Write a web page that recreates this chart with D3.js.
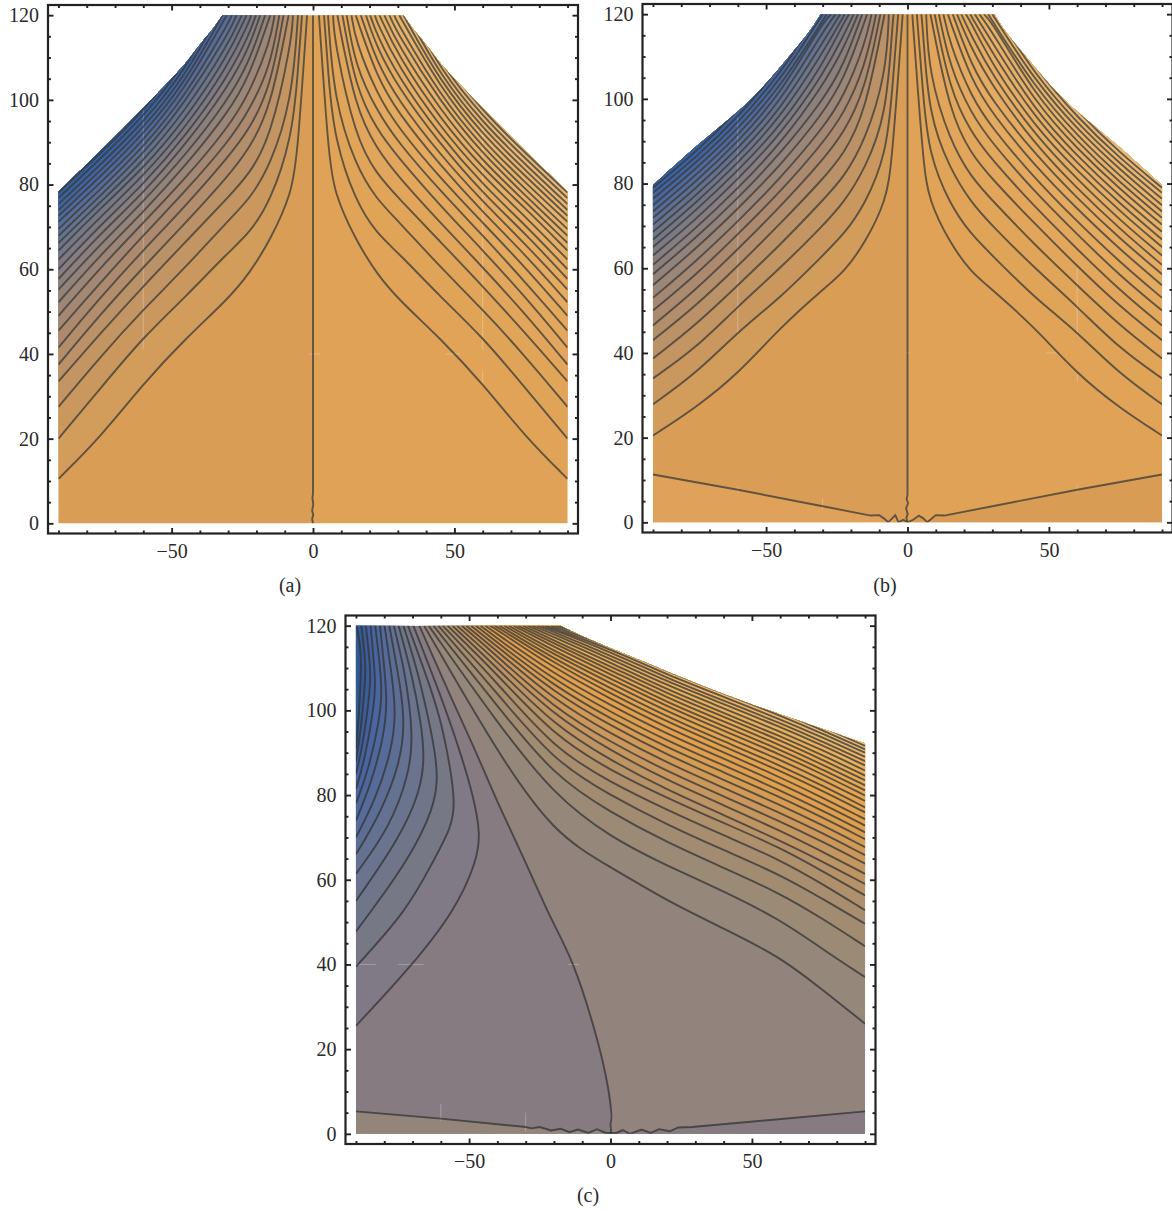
<!DOCTYPE html>
<html>
<head>
<meta charset="utf-8">
<script src="https://cdn.jsdelivr.net/npm/d3@7"></script>
<style>
  html, body { margin: 0; padding: 0; background: #fff; }
  svg { display: block; }
  text { font-family: "Liberation Serif", serif; fill: #2a2a2a; }
</style>
</head>
<body>
<div id="chart"></div>
<script>
// contour heights (y) where each line crosses these x columns, right half of (a) and (b)
const sideColumns = [5.5, 7.5, 15, 22.5, 30, 45, 60, 75, 90]

const aTop = [2.1, 3.9, 5.3, 7.1, 8.6, 10.4, 11.9, 13.6, 15.1, 16.9, 18.7, 20.2, 21.9, 23.5, 25.2, 27, 28.7, 30.5, 32, 33.5, 35, 36.5, 38]
const aRows = [
    [87, 78, 67, 59, 53, 43.7, 33, 20.5, 10.5],
    [105, 91, 76, 68.5, 64, 53.5, 44, 32, 20],
    [118, 100, 84.5, 76.5, 71.5, 60.5, 50.5, 39.5, 27.5],
    [null, 114, 91, 82.5, 77, 66.5, 56, 45, 33.5],
    [null, null, 98, 88.5, 82, 71, 60.5, 49.5, 37.5],
    [null, null, 103, 93, 86.5, 75, 64.5, 53.5, 41.5],
    [null, null, 108, 97.5, 90, 78.5, 68, 57, 45.5],
    [null, null, 114, 101.5, 93.5, 81.5, 71, 60.5, 49],
    [null, null, null, 105.5, 97, 84.5, 73.5, 63.5, 52.2],
    [null, null, null, 109, 100, 87, 76, 66, 55.2],
    [null, null, null, 112.5, 103, 89.5, 78, 68.5, 57.7],
    [null, null, null, 115.5, 105.5, 91.5, 80, 70.5, 60],
    [null, null, null, 118.5, 108, 93.5, 82, 72.5, 62.3],
    [null, null, null, null, 110.5, 95.5, 83.8, 74.5, 64.4],
    [null, null, null, null, 113, 97.5, 85.5, 76, 66.2],
    [null, null, null, null, 115.5, 99.5, 87.2, 77.5, 67.9],
    [null, null, null, null, 118, 101, 88.8, 79, 69.5],
    [null, null, null, null, null, 102.8, 90.3, 80.5, 71.2],
    [null, null, null, null, null, 104.3, 91.8, 82, 72.6],
    [null, null, null, null, null, 105.8, 93.2, 83.4, 74],
    [null, null, null, null, null, 107.2, 94.6, 84.8, 75.4],
    [null, null, null, null, null, 108.5, 96, 86.2, 76.8],
    [null, null, null, null, null, 110, 97.3, 87.5, 78.1],
]
const aEnvelope = [[32, 120], [35, 117], [39.6, 113.5], [44.5, 109], [50, 105], [60, 98], [72, 90], [90, 78.3]]
const aCenter = [[0, 120], [0, 40], [0, 7], [-0.2, 6], [0.1, 4.5], [-0.3, 3], [0.1, 2], [-0.3, 1], [0, 0]]

const bTop = [1.7, 3.3, 4.9, 6.6, 8.1, 9.6, 11.1, 12.7, 14.3, 16, 17.5, 19, 20.6, 22.2, 23.8, 25.4, 27, 28.5, 30, 31.5, 33, 34.5]
const bRows = [
    [85, 76, 66, 59, 55, 46, 35, 27, 20.5],
    [101, 87, 75, 68, 63, 53, 45, 35, 27.9],
    [116, 96, 83.5, 75.5, 70, 60, 51, 41, 34],
    [null, 106, 90, 81.5, 76, 65.5, 56, 46.5, 38.7],
    [null, null, 96.5, 87, 81, 70.5, 60.5, 51, 43],
    [null, null, 102, 92, 85.5, 74.5, 64.5, 54.8, 46.5],
    [null, null, 107.5, 96.5, 89.5, 78, 68, 58.3, 50],
    [null, null, 113, 100.5, 93, 81.2, 71, 61.5, 53],
    [null, null, 118.5, 104.5, 96.5, 84.2, 74, 64.5, 56],
    [null, null, null, 108, 99.5, 87, 76.5, 67, 58.6],
    [null, null, null, 112, 103, 89.3, 78.8, 69.3, 60.8],
    [null, null, null, 115, 105.5, 91.5, 81, 71.4, 63],
    [null, null, null, 118, 108, 93.5, 83, 73.5, 65],
    [null, null, null, null, 110.8, 95.5, 84.8, 75.3, 66.8],
    [null, null, null, null, 113.3, 97.3, 86.5, 77, 68.6],
    [null, null, null, null, 115.8, 99.2, 88.2, 78.7, 70.3],
    [null, null, null, null, 118, 101, 89.8, 80.3, 71.9],
    [null, null, null, null, null, 102.7, 91.3, 81.8, 73.4],
    [null, null, null, null, null, 104.3, 92.8, 83.3, 74.9],
    [null, null, null, null, null, 105.8, 94.2, 84.7, 76.4],
    [null, null, null, null, null, 107.3, 95.6, 86, 77.8],
    [null, null, null, null, null, 108.7, 97, 87.3, 79],
]
const bEnvelope = [[30.7, 120], [34, 116.5], [38, 113], [45.6, 107], [52, 102], [60, 96.8], [76.7, 87.8], [90, 79.6]]
const bCenter = [[0, 120], [0, 40], [0, 6.5], [-0.3, 5.5], [0.2, 4.5], [-0.5, 3.3], [0.1, 2], [-0.4, 1], [0, 0]]
const bBottom = [[-90, 11.3], [-60, 7.7], [-30, 3.8], [-13, 1.6], [-10, 1.7], [-8.5, 1], [-6.8, 0], [-4.3, 1.7], [-3.2, 0], [-1.5, 0.6], [0, 0],
    [2, 0.6], [4, 1.6], [5.5, 1], [7, 0], [10, 1.7], [13, 1.6], [30, 3.8], [60, 7.7], [90, 11.3]]

// panel (c) is not symmetric: one fan runs to the left edge, one to the right edge
const cCenter = [[-67.6, 120], [-57, 104], [-48.5, 91.5], [-40, 78.5], [-31, 65.5], [-22.5, 53], [-13.3, 40], [-5.3, 23.7], [-0.9, 11], [0.3, 4], [0, 2], [0.2, 1], [0, 0]]
const cLeftLines = [
    [[-90, 25.5], [-70.5, 39.5], [-55, 52.7], [-47.2, 64.5], [-46, 71], [-48.4, 79.5], [-53, 90], [-60, 103.5], [-69.7, 120]],
    [[-90, 39.5], [-72, 52.7], [-62.6, 64.5], [-56.2, 72.4], [-55, 78], [-56.5, 86], [-60, 98], [-65, 108], [-71.6, 120]],
    [[-90, 47.8], [-84.5, 52.7], [-70.9, 65.3], [-62.4, 77], [-61, 84], [-62.2, 91], [-65, 100], [-68.5, 110], [-73.2, 120]],
    [[-90, 55], [-74.4, 70], [-67.2, 81], [-65.7, 89], [-67, 97], [-70, 108], [-74.9, 120]],
    [[-90, 61.4], [-78, 72.4], [-71.2, 85], [-70, 93], [-71, 101], [-73, 110], [-76.6, 120]],
    [[-90, 66], [-81, 76], [-74.2, 88], [-72.9, 96.6], [-73.8, 104], [-78.2, 120]],
    [[-90, 70], [-83, 79], [-77.2, 91], [-76, 99], [-76.8, 106], [-79.9, 120]],
    [[-90, 74], [-85, 82], [-80, 94], [-79, 102], [-79.8, 109], [-81.5, 120]],
    [[-90, 78], [-86, 85], [-81.8, 97], [-80.8, 104], [-81.4, 110], [-83.2, 120]],
    [[-90, 81.5], [-87, 88], [-83.8, 100], [-83.1, 106], [-83.6, 111], [-84.8, 120]],
    [[-90, 85], [-87.5, 92], [-85.3, 103], [-84.8, 108], [-85.3, 113], [-86.5, 120]],
    [[-90, 88], [-88.3, 95], [-86.8, 106], [-86.6, 110], [-87, 114], [-88.1, 120]],
    [[-90, 91], [-89, 98], [-88.3, 108], [-88.2, 112], [-88.6, 116], [-89.8, 120]],
]
const cColumns = [-40, -20, 0, 20, 40, 60, 75, 90]
const cTop = [-65.9, -64.3, -62.6, -60.9, -59.3, -57.6, -55.9, -54.3, -52.6, -51, -49.3, -47.6, -46, -44.3, -42.6, -41, -39.3, -37.6, -36, -34.3, -32.7, -31, -29.3, -27.7, -26, -24.3, -22.7, -21, -19.4, -17.8]
const cRows = [
    [90, 70.8, 63, 55, 48.5, 41.8, 34, 26],
    [97, 80, 70, 63.3, 57.3, 50.6, 43.6, 37],
    [101, 84.5, 75.9, 68.8, 62.8, 56.8, 50.8, 44.3],
    [104, 88, 79.9, 73, 67, 61.2, 55.5, 49.6],
    [106.5, 91, 83, 76.5, 70.5, 64.7, 59, 52.8],
    [108.5, 94, 85.8, 79.3, 73.4, 67.6, 62, 56.3],
    [110, 96.5, 88.2, 81.2, 75.3, 69.2, 64.3, 59],
    [111.5, 98.8, 90.5, 83.5, 77.6, 71.6, 66.6, 61.4],
    [112.8, 100.6, 92.5, 85.6, 79.7, 73.8, 69, 63.8],
    [114, 102.5, 94.5, 87.6, 81.7, 75.8, 71, 65.8],
    [115, 104.3, 96.4, 89.5, 83.6, 77.7, 72.9, 67.7],
    [116, 105.8, 98, 91.2, 85.4, 79.5, 74.7, 69.6],
    [117, 107.2, 99.6, 92.8, 87, 81.1, 76.3, 71.2],
    [118, 108.6, 101.2, 94.4, 88.6, 82.7, 77.9, 72.8],
    [119, 110, 102.7, 95.9, 90.1, 84.2, 79.4, 74.3],
    [119.7, 111.2, 104, 97.3, 91.5, 85.7, 81, 75.9],
    [null, 112.2, 105.2, 98.5, 92.7, 87, 82.2, 77.1],
    [null, 113.2, 106.4, 99.7, 94, 88.3, 83.6, 78.6],
    [null, 114, 107.5, 100.9, 95.2, 89.6, 84.9, 79.9],
    [null, 115, 108.5, 101.9, 96.3, 90.7, 86, 81.1],
    [null, 115.8, 109.5, 103, 97.4, 91.8, 87.2, 82.3],
    [null, 116.5, 110.4, 104, 98.5, 92.9, 88.3, 83.5],
    [null, 117.3, 111.3, 104.9, 99.4, 93.9, 89.4, 84.6],
    [null, 118, 112.2, 105.9, 100.5, 95, 90.6, 85.8],
    [null, 118.5, 113, 106.8, 101.5, 96.1, 91.7, 87],
    [null, 119, 113.8, 107.6, 102.3, 97, 92.6, 88],
    [null, 119.3, 114.5, 108.4, 103.2, 97.9, 93.6, 89],
    [null, 119.7, 115.2, 109.2, 104, 98.8, 94.5, 90],
    [null, null, 115.9, 109.9, 104.8, 99.6, 95.3, 90.8],
    [null, null, 116.6, 110.6, 105.6, 100.4, 96.1, 91.6],
]
const cEnvelope = [[-17.7, 120], [-10, 117.5], [-3.5, 115.6], [11.8, 111.5], [28.4, 106.8], [49.6, 101.4], [67.4, 97.4], [90, 92.2]]
const cBottom = [[-90, 5.3], [-60, 3.6], [-30, 1.6], [-28, 1.3], [-25, 1.6], [-21, 0.8], [-17.6, 1.2], [-14.5, 0.4], [-11.5, 1], [-7.8, 0.2], [-4.8, 1.1], [-1.7, 0.2], [0, 0.2],
    [2, 0.2], [4.4, 0.9], [6.8, 0], [11, 1], [14.2, 0.2], [17.2, 1.1], [20.9, 0.6], [24, 1.5], [28.8, 1.6], [90, 5.3]]

// fill colour of the band just outside each line, index 0 is the base colour
const coolBands = ['#da9d55', '#d29c5b', '#ca985e', '#c39563', '#bb9167', '#b38e6c', '#ab8a70', '#a48874', '#9c8678', '#94837b', '#8c807e', '#857e82',
    '#7e7a84', '#767888', '#6e768c', '#667390', '#5e7095', '#566d9a', '#4f6a9e', '#4867a1', '#4164a2', '#3b62a2', '#345e9e', '#2e5a98']
const warmBands = ['#dfa257', '#e0a358', '#e0a459', '#e1a55a', '#e1a65c', '#e2a75d', '#e2a85e', '#e3a95f', '#e3aa60', '#e4ab61', '#e4ac62', '#e4ad63',
    '#e5ae65', '#e5af66', '#e6b068', '#e6b169', '#e6b26a', '#e7b36c', '#e7b46d', '#e8b56f', '#e8b672', '#e8b876', '#e8ba79', '#e8bc7c']
const cLeftBands = ['#857b80', '#7f7a86', '#777886', '#70768a', '#6a748e', '#647191', '#5d6e95', '#566b99', '#4f689c', '#4966a0', '#43629d', '#3c5e98', '#355b94', '#2e5a90']
const cRightBands = ['#92847c', '#95877a', '#9b8a75', '#a18c72', '#a88e6f', '#af906c', '#b69268', '#bd9464', '#c49660', '#ca985d', '#d09a58', '#d59c54',
    '#da9e51', '#de9f4e', '#e1a04d', '#e2a24e', '#e3a44f', '#e3a550', '#e4a652', '#e4a853', '#e5a954', '#e6ab56', '#e6ad58', '#e7af5b', '#e8b15e', '#e9b362', '#eab566', '#eab96c', '#ebbc73', '#ecbf78', '#ecc07a']

// hairline seams left in the shading of the original, x1 y1 x2 y2
const aSeams = [[-60, 98, -60, 41], [60, 94, 60, 41], [-1.5, 40, 2.5, 40], [47, 40, 52, 40], [60, 36, 60, 33]]
const bSeams = [[-60, 96, -60, 44], [60, 60, 60, 44], [-60, 8.5, -60, 7], [-30, 5.5, -30, 3], [60, 9, 60, 7], [-0.5, 40, 1, 40], [49, 40, 53, 40], [60, 35, 60, 33]]
const cSeams = [[-90, 40, -83, 40], [-75, 40, -66, 40], [-15, 40, -11, 40], [-60, 7, -60, 3], [-30, 5, -30, 0.5], [0, 6, 0, 1]]

const xMajor = [-50, 0, 50]
const xMinor = [-90, -80, -70, -60, -40, -30, -20, -10, 10, 20, 30, 40, 60, 70, 80, 90]
const yMajor = [0, 20, 40, 60, 80, 100, 120]
const yMinor = [5, 10, 15, 25, 30, 35, 45, 50, 55, 65, 70, 75, 85, 90, 95, 105, 110, 115]

const frameW = 530
const frameH = 528.5
const x = d3.scaleLinear().domain([-93.7, 93.7]).range([0, frameW])
const y = d3.scaleLinear().domain([-2.4, 122.4]).range([frameH, 0])

const smooth = d3.line().x((d) => x(d[0])).y((d) => y(d[1])).curve(d3.curveBasis)
const through = d3.line().x((d) => x(d[0])).y((d) => y(d[1])).curve(d3.curveCatmullRom.alpha(0.5))
const straight = d3.line().x((d) => x(d[0])).y((d) => y(d[1]))
const asTail = (pts) => straight(pts).replace('M', 'L')

const svg = d3.select('#chart').append('svg').attr('width', 1172).attr('height', 1211)

// top crossing first, then every column that lies right of it and under y = 120
function fanLine(top, row, columns) {
    const pts = [[top, 120]]
    row.forEach((v, i) => {
        if (v !== null && v < 120 && columns[i] > top) pts.push([columns[i], v])
    })
    return pts
}

const mirror = (pts) => pts.map((d) => [-d[0], d[1]])

function drawFrame(g) {
    const axisGroup = (t, axis) => {
        const a = g.append('g').attr('transform', t).call(axis)
        a.select('.domain').remove()
        a.selectAll('line').attr('stroke', '#222').attr('stroke-width', 1.9)
        return a
    }
    const blank = () => ''
    axisGroup(`translate(0,${frameH})`, d3.axisBottom(x).tickValues(xMinor).tickSize(-3).tickFormat(blank))
    axisGroup('translate(0,0)', d3.axisTop(x).tickValues(xMinor).tickSize(-3).tickFormat(blank))
    axisGroup('translate(0,0)', d3.axisLeft(y).tickValues(yMinor).tickSize(-3).tickFormat(blank))
    axisGroup(`translate(${frameW},0)`, d3.axisRight(y).tickValues(yMinor).tickSize(-3).tickFormat(blank))
    axisGroup('translate(0,0)', d3.axisTop(x).tickValues(xMajor).tickSize(-5.5).tickFormat(blank))
    axisGroup(`translate(${frameW},0)`, d3.axisRight(y).tickValues(yMajor).tickSize(-5.5).tickFormat(blank))
    axisGroup(`translate(0,${frameH})`, d3.axisBottom(x).tickValues(xMajor).tickSize(-5.5).tickPadding(10).tickFormat(d3.format('d')))
        .selectAll('text').attr('font-size', 20).attr('font-family', '"Liberation Serif", serif').attr('fill', '#2a2a2a')
    axisGroup('translate(0,0)', d3.axisLeft(y).tickValues(yMajor).tickSize(-5.5).tickPadding(9).tickFormat(d3.format('d')))
        .selectAll('text').attr('font-size', 20).attr('font-family', '"Liberation Serif", serif').attr('fill', '#2a2a2a')
    g.append('rect').attr('width', frameW).attr('height', frameH)
        .attr('fill', 'none').attr('stroke', '#222').attr('stroke-width', 2.2)
}

function drawPanel(p) {
    const g = svg.append('g').attr('transform', `translate(${p.left},${p.top})`)
    const clipId = `clip-${p.name}`
    g.append('clipPath').attr('id', clipId).append('path').attr('d', p.regionPath)
    const inside = g.append('g').attr('clip-path', `url(#${clipId})`)

    for (const band of p.bands) {
        inside.append('path').attr('d', band.d).attr('fill', band.color).attr('stroke', band.color).attr('stroke-width', 0.4)
    }
    for (const s of p.seams) {
        inside.append('line')
            .attr('x1', x(s[0])).attr('y1', y(s[1])).attr('x2', x(s[2])).attr('y2', y(s[3]))
            .attr('stroke', '#fff').attr('stroke-opacity', 0.25).attr('stroke-width', 1)
    }
    for (const l of p.lines) {
        inside.append('path').attr('d', l.gen(l.pts))
            .attr('fill', 'none').attr('stroke', p.lineColor).attr('stroke-opacity', 0.75).attr('stroke-width', 1.9)
    }
    drawFrame(g)
    svg.append('text').attr('x', p.labelX).attr('y', p.labelY).attr('font-size', 20).attr('text-anchor', 'middle').text(p.label)
}

function symmetricPanel(name, left, top, label, labelX, labelY, topRow, rows, envelope, center, bottom, seams, bottomFills) {
    const lines = rows.map((row, i) => fanLine(topRow[i], row, sideColumns))
    const rightEnv = envelope
    const leftEnv = mirror(envelope).reverse()
    const regionPath = straight([[-90, 0]]) + asTail([[-90, leftEnv[0][1]]]) + smooth(leftEnv).replace('M', 'L') +
        smooth(rightEnv).replace('M', 'L') + asTail([[90, 0]]) + 'Z'

    const bands = []
    bands.push({ d: straight([[-100, -5], [0, -5], [0, 130], [-100, 130]]) + 'Z', color: coolBands[0] })
    bands.push({ d: straight([[0, -5], [100, -5], [100, 130], [0, 130]]) + 'Z', color: warmBands[0] })
    lines.forEach((pts, i) => {
        const end = pts[pts.length - 1]
        const closeRight = [[100, end[1]], [100, 130], [pts[0][0], 130]]
        bands.push({ d: smooth(pts) + asTail(closeRight) + 'Z', color: warmBands[i + 1] })
        const m = mirror(pts)
        bands.push({ d: smooth(m) + asTail(mirror(closeRight)) + 'Z', color: coolBands[i + 1] })
    })
    if (bottom) {
        const low = bottom.filter((d) => d[0] <= 0)
        const high = bottom.filter((d) => d[0] >= 0)
        bands.push({ d: straight(low.concat([[0, -5], [-100, -5], [-100, low[0][1]]])) + 'Z', color: bottomFills[0] })
        bands.push({ d: straight(high.concat([[100, high[high.length - 1][1]], [100, -5], [0, -5]])) + 'Z', color: bottomFills[1] })
    }

    const drawn = [{ pts: center, gen: straight }]
    lines.forEach((pts) => {
        drawn.push({ pts: pts, gen: smooth })
        drawn.push({ pts: mirror(pts), gen: smooth })
    })
    if (bottom) drawn.push({ pts: bottom, gen: straight })

    drawPanel({ name, left, top, label, labelX, labelY, regionPath, bands, seams, lines: drawn, lineColor: '#3a3a36' })
}

symmetricPanel('a', 48, 5, '(a)', 290, 592, aTop, aRows, aEnvelope, aCenter, null, aSeams)
symmetricPanel('b', 642.5, 4, '(b)', 885, 592, bTop, bRows, bEnvelope, bCenter, bBottom, bSeams, ['#e0a15a', '#d99c55'])

function panelC() {
    const rights = cRows.map((row, i) => fanLine(cTop[i], row, cColumns))
    const regionPath = straight([[-90, 0], [-90, 120], [-17.7, 120]]) + smooth(cEnvelope).replace('M', 'L') + asTail([[90, 0]]) + 'Z'

    const bands = []
    bands.push({ d: straight([[-100, -5], [100, -5], [100, 130], [-100, 130]]) + 'Z', color: cLeftBands[0] })
    bands.push({ d: through(cCenter) + asTail([[0, -5], [100, -5], [100, 130], [cCenter[0][0], 130]]) + 'Z', color: cRightBands[0] })
    rights.forEach((pts, i) => {
        const end = pts[pts.length - 1]
        bands.push({ d: smooth(pts) + asTail([[100, end[1]], [100, 130], [pts[0][0], 130]]) + 'Z', color: cRightBands[i + 1] })
    })
    cLeftLines.forEach((pts, i) => {
        const end = pts[pts.length - 1]
        bands.push({ d: smooth(pts) + asTail([[end[0], 130], [-100, 130], [-100, pts[0][1]]]) + 'Z', color: cLeftBands[i + 1] })
    })
    const low = cBottom.filter((d) => d[0] <= 0)
    const high = cBottom.filter((d) => d[0] >= 0)
    bands.push({ d: straight(low.concat([[0, -5], [-100, -5], [-100, low[0][1]]])) + 'Z', color: '#94857a' })
    bands.push({ d: straight(high.concat([[100, high[high.length - 1][1]], [100, -5], [0, -5]])) + 'Z', color: '#857b80' })

    const drawn = [{ pts: cCenter, gen: through }, { pts: cBottom, gen: straight }]
    cLeftLines.forEach((pts) => drawn.push({ pts: pts, gen: smooth }))
    rights.forEach((pts) => drawn.push({ pts: pts, gen: smooth }))

    drawPanel({ name: 'c', left: 345.5, top: 615.5, label: '(c)', labelX: 588, labelY: 1202, regionPath, bands, seams: cSeams, lines: drawn, lineColor: '#333336' })
}
panelC()
</script>
</body>
</html>
